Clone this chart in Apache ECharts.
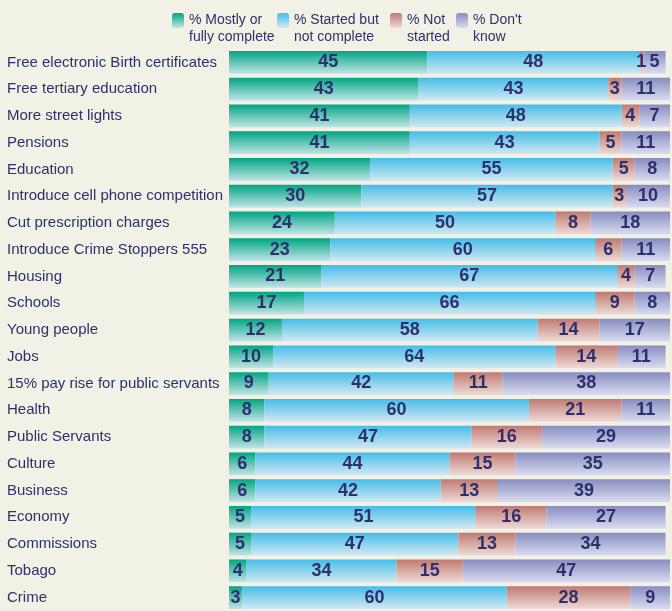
<!DOCTYPE html>
<html>
<head>
<meta charset="utf-8">
<script src="https://cdn.jsdelivr.net/npm/echarts@6/dist/echarts.min.js"></script>
<style>
  html, body { margin: 0; padding: 0; background: #f2f1e5; }
  #chart { width: 672px; height: 611px; }
</style>
</head>
<body>
<div id="chart"></div>
<script>
var categories = [
  "Free electronic Birth certificates", "Free tertiary education", "More street lights",
  "Pensions", "Education", "Introduce cell phone competition", "Cut prescription charges",
  "Introduce Crime Stoppers 555", "Housing", "Schools", "Young people", "Jobs",
  "15% pay rise for public servants", "Health", "Public Servants", "Culture",
  "Business", "Economy", "Commissions", "Tobago", "Crime"
];
var complete   = [45, 43, 41, 41, 32, 30, 24, 23, 21, 17, 12, 10, 9, 8, 8, 6, 6, 5, 5, 4, 3];
var started    = [48, 43, 48, 43, 55, 57, 50, 60, 67, 66, 58, 64, 42, 60, 47, 44, 42, 51, 47, 34, 60];
var notStarted = [1, 3, 4, 5, 5, 3, 8, 6, 4, 9, 14, 14, 11, 21, 16, 15, 13, 16, 13, 15, 28];
var dontKnow   = [5, 11, 7, 11, 8, 10, 18, 11, 7, 8, 17, 11, 38, 11, 29, 35, 39, 27, 34, 47, 9];

var seriesNames = ["% Mostly or\nfully complete", "% Started but\nnot complete", "% Not\nstarted", "% Don't\nknow"];

var navy = "#2e306e";
var font = "'Liberation Sans', Arial, sans-serif";

function grad(top, bottom) {
  return new echarts.graphic.LinearGradient(0, 0, 0, 1, [
    { offset: 0, color: top },
    { offset: 1, color: bottom }
  ]);
}

var colors = [
  grad("#00a684", "#c2e4e6"),
  grad("#45bde8", "#d2e8f0"),
  grad("#bf7a72", "#eedad6"),
  grad("#878dbf", "#d9dcf0")
];

function makeSeries(i, values) {
  return {
    name: seriesNames[i],
    type: "bar",
    stack: "total",
    barCategoryGap: "15%",
    data: values,
    itemStyle: { color: colors[i] },
    label: {
      show: true,
      position: "inside",
      color: navy,
      fontSize: 18,
      fontWeight: "bold",
      fontFamily: font
    }
  };
}

// one legend per item so each sits where the original puts it;
// the leading blank line keeps the icon level with the first text line
function makeLegend(i, left) {
  return {
    data: [{ name: seriesNames[i], itemStyle: { color: colors[i] } }],
    left: left,
    top: -5,
    padding: 0,
    itemWidth: 12,
    itemHeight: 15,
    itemGap: 6,
    formatter: function (name) { return "\n" + name; },
    textStyle: {
      color: navy,
      fontSize: 14,
      lineHeight: 17,
      fontFamily: font
    }
  };
}

var myChart = echarts.init(document.getElementById("chart"));
var options = {
  backgroundColor: "#f2f1e5",
  animation: false,
  legend: [
    makeLegend(0, 172),
    makeLegend(1, 277),
    makeLegend(2, 390),
    makeLegend(3, 456)
  ],
  grid: {
    left: 229,
    right: 2,
    top: 49,
    height: 567
  },
  xAxis: {
    type: "value",
    min: 0,
    max: 100,
    show: false
  },
  yAxis: {
    type: "category",
    data: categories,
    inverse: true,
    axisLine: { show: false },
    axisTick: { show: false },
    axisLabel: {
      align: "left",
      margin: 222,
      color: navy,
      fontSize: 15,
      fontFamily: font
    }
  },
  series: [
    makeSeries(0, complete),
    makeSeries(1, started),
    makeSeries(2, notStarted),
    makeSeries(3, dontKnow)
  ]
};
myChart.setOption(options);
</script>
</body>
</html>
